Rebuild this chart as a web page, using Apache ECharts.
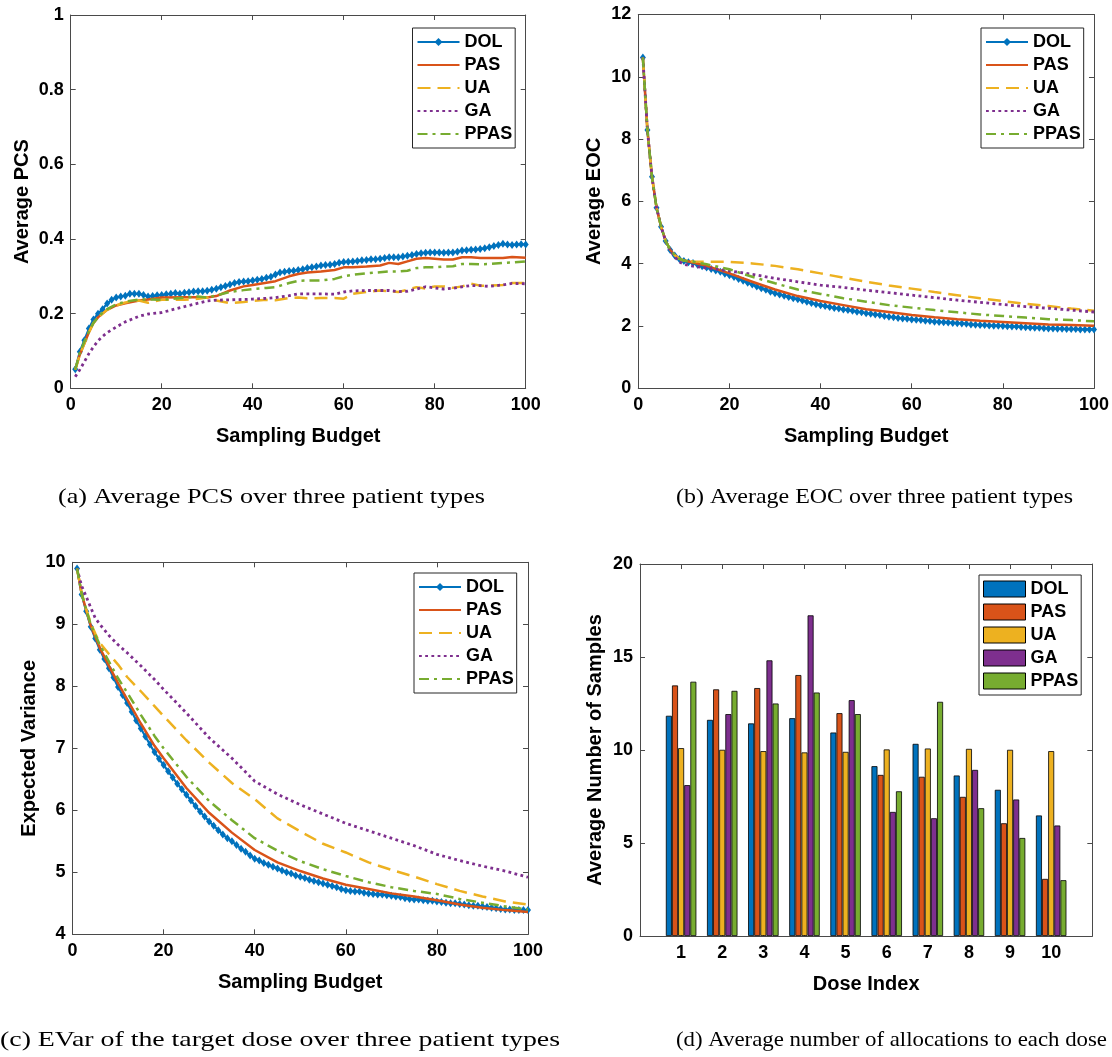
<!DOCTYPE html>
<html><head><meta charset="utf-8">
<script src="https://cdn.jsdelivr.net/npm/echarts@6/dist/echarts.min.js"></script>
<style>html,body{margin:0;padding:0;background:#fff}#c{width:1112px;height:1057px}</style>
</head><body><div id="c"></div>
<script>
const methods = ['DOL','PAS','UA','GA','PPAS'];
const colors = ['#0072BD','#D95319','#EDB120','#7E2F8E','#77AC30'];

// sampling budget positions 1..100 for the DOL curves
const budget = Array.from({length:100},(_,i)=>i+1);

// (a) Average PCS
const pcsDOL = [0.051,0.098,0.129,0.160,0.184,0.200,0.212,0.227,0.237,0.243,
0.246,0.248,0.253,0.253,0.253,0.250,0.246,0.247,0.249,0.250,
0.252,0.253,0.255,0.253,0.256,0.257,0.259,0.260,0.260,0.261,
0.264,0.267,0.271,0.274,0.278,0.282,0.285,0.286,0.287,0.289,
0.291,0.293,0.296,0.299,0.305,0.310,0.312,0.314,0.315,0.317,
0.319,0.322,0.324,0.326,0.329,0.330,0.331,0.333,0.336,0.338,
0.339,0.340,0.341,0.343,0.344,0.346,0.346,0.347,0.349,0.351,
0.351,0.351,0.353,0.355,0.357,0.360,0.362,0.363,0.364,0.364,
0.364,0.363,0.364,0.364,0.366,0.369,0.370,0.371,0.372,0.373,
0.375,0.378,0.381,0.384,0.387,0.385,0.384,0.385,0.386,0.385];
const pcsX = [1,2,3,4,5,6,7,8,10,12,15,17,20,25,28,30,32,35,38,40,43,45,48,50,52,55,58,60,62,65,68,70,72,74,76,78,80,82,84,86,88,90,92,95,97,100];
const pcsPAS = [0.050,0.090,0.120,0.150,0.175,0.190,0.200,0.210,0.222,0.228,0.235,0.238,0.243,0.244,0.244,0.243,0.247,0.262,0.273,0.277,0.283,0.287,0.300,0.306,0.310,0.313,0.317,0.324,0.324,0.326,0.329,0.336,0.333,0.340,0.347,0.349,0.347,0.345,0.345,0.351,0.351,0.349,0.349,0.349,0.352,0.350];
const pcsUA = [0.050,0.090,0.120,0.150,0.175,0.190,0.200,0.210,0.222,0.230,0.235,0.229,0.237,0.237,0.240,0.243,0.235,0.228,0.231,0.234,0.237,0.236,0.242,0.243,0.241,0.242,0.242,0.240,0.253,0.258,0.262,0.260,0.258,0.264,0.271,0.267,0.273,0.273,0.269,0.273,0.280,0.275,0.275,0.277,0.282,0.282];
const pcsGA = [0.031,0.050,0.071,0.093,0.111,0.127,0.139,0.149,0.164,0.178,0.193,0.199,0.203,0.219,0.228,0.234,0.236,0.237,0.238,0.239,0.241,0.243,0.248,0.253,0.253,0.253,0.252,0.258,0.261,0.262,0.262,0.262,0.259,0.260,0.266,0.272,0.269,0.266,0.268,0.272,0.275,0.275,0.273,0.277,0.281,0.280];
const pcsPPAS = [0.050,0.095,0.125,0.152,0.175,0.190,0.203,0.212,0.225,0.232,0.238,0.238,0.237,0.243,0.246,0.243,0.249,0.258,0.263,0.266,0.269,0.271,0.282,0.288,0.289,0.289,0.293,0.300,0.304,0.308,0.311,0.313,0.313,0.315,0.322,0.324,0.324,0.326,0.327,0.333,0.333,0.332,0.333,0.336,0.337,0.340];

// (b) Average EOC
const eocDOL = [10.62,8.29,6.79,5.80,5.19,4.73,4.44,4.26,4.15,4.09,
4.05,4.02,3.97,3.92,3.88,3.83,3.78,3.74,3.68,3.63,
3.57,3.51,3.45,3.39,3.33,3.27,3.21,3.16,3.10,3.05,
3.01,2.97,2.93,2.89,2.86,2.82,2.78,2.74,2.70,2.67,
2.64,2.61,2.58,2.56,2.53,2.51,2.49,2.46,2.44,2.41,
2.39,2.37,2.35,2.32,2.30,2.28,2.26,2.24,2.23,2.21,
2.20,2.19,2.17,2.16,2.14,2.13,2.12,2.11,2.10,2.09,
2.08,2.07,2.05,2.04,2.03,2.03,2.02,2.01,2.01,2.00,
1.99,1.98,1.98,1.97,1.96,1.95,1.94,1.94,1.93,1.92,
1.92,1.91,1.91,1.90,1.90,1.90,1.89,1.89,1.89,1.89];
const eocX = [1,2,3,4,5,6,7,8,9,10,12,15,20,25,30,35,40,45,50,55,60,65,70,75,80,85,90,95,100];
const eocPAS = [10.62,8.29,6.79,5.80,5.19,4.73,4.45,4.27,4.16,4.10,4.04,3.93,3.69,3.42,3.17,2.96,2.80,2.67,2.54,2.45,2.35,2.28,2.22,2.17,2.13,2.09,2.05,2.03,2.01];
const eocUA = [10.62,8.29,6.79,5.80,5.19,4.73,4.45,4.27,4.16,4.10,4.07,4.06,4.06,4.01,3.93,3.82,3.69,3.55,3.42,3.30,3.20,3.09,2.99,2.89,2.80,2.71,2.64,2.56,2.49];
const eocGA = [10.62,8.29,6.79,5.80,5.19,4.73,4.42,4.22,4.06,3.98,3.92,3.86,3.77,3.66,3.53,3.42,3.31,3.24,3.15,3.07,2.99,2.91,2.83,2.76,2.69,2.62,2.57,2.51,2.45];
const eocPPAS = [10.62,8.29,6.79,5.80,5.19,4.73,4.45,4.27,4.16,4.10,4.06,3.98,3.82,3.58,3.37,3.17,3.03,2.89,2.78,2.67,2.59,2.51,2.44,2.37,2.32,2.27,2.22,2.19,2.15];

// (c) Expected variance
const evarDOL = [9.90,9.48,9.21,8.96,8.77,8.59,8.44,8.29,8.14,7.99,
7.86,7.73,7.59,7.45,7.32,7.19,7.06,6.94,6.83,6.73,
6.63,6.53,6.43,6.34,6.25,6.16,6.07,5.98,5.90,5.82,
5.75,5.68,5.61,5.55,5.50,5.44,5.38,5.33,5.27,5.22,
5.19,5.15,5.12,5.09,5.06,5.03,5.00,4.98,4.95,4.93,
4.91,4.88,4.86,4.84,4.82,4.80,4.78,4.76,4.73,4.71,
4.70,4.69,4.69,4.67,4.66,4.65,4.64,4.64,4.63,4.62,
4.61,4.60,4.58,4.57,4.56,4.56,4.55,4.54,4.54,4.53,
4.52,4.51,4.50,4.50,4.49,4.48,4.47,4.46,4.46,4.45,
4.44,4.43,4.42,4.41,4.40,4.40,4.39,4.39,4.39,4.39];
const evarX = [1,2,3,4,5,6,8,10,12,15,18,20,25,30,35,40,45,50,55,60,65,70,75,80,85,90,95,100];
const evarPAS = [9.90,9.50,9.23,8.98,8.80,8.62,8.33,8.05,7.79,7.40,7.04,6.84,6.36,5.96,5.64,5.36,5.16,5.02,4.90,4.80,4.73,4.66,4.61,4.55,4.48,4.43,4.39,4.36];
const evarUA = [9.90,9.50,9.25,9.02,8.85,8.70,8.52,8.35,8.15,7.92,7.68,7.52,7.13,6.77,6.44,6.18,5.87,5.66,5.46,5.32,5.16,5.04,4.93,4.81,4.70,4.61,4.53,4.48];
const evarGA = [9.90,9.62,9.45,9.27,9.10,9.00,8.82,8.67,8.54,8.33,8.11,7.95,7.57,7.17,6.84,6.47,6.26,6.09,5.94,5.79,5.67,5.55,5.43,5.29,5.19,5.10,5.02,4.92];
const evarPPAS = [9.90,9.50,9.24,9.00,8.83,8.67,8.40,8.13,7.90,7.54,7.20,7.00,6.54,6.15,5.84,5.55,5.35,5.18,5.05,4.94,4.84,4.76,4.70,4.65,4.57,4.51,4.45,4.40];

// (d) Average number of allocations per dose
const doseIndex = [1,2,3,4,5,6,7,8,9,10];
const allocDOL = [11.84,11.62,11.43,11.71,10.94,9.13,10.33,8.63,7.86,6.48];
const allocPAS = [13.47,13.26,13.33,14.03,11.98,8.66,8.56,7.48,6.06,3.07];
const allocUA = [10.10,10.01,9.94,9.87,9.90,10.03,10.08,10.06,10.01,9.94];
const allocGA = [8.11,11.93,14.82,17.24,12.68,6.67,6.33,8.93,7.34,5.94];
const allocPPAS = [13.67,13.18,12.50,13.09,11.93,7.78,12.59,6.87,5.27,3.00];

const captions = ['(a) Average PCS over three patient types','(b) Average EOC over three patient types',
  '(c) EVar of the target dose over three patient types','(d) Average number of allocations to each dose'];

const SANS = '"Liberation Sans", Arial, sans-serif';
const AX = '#4a4a4a';
const grids = [
  {left:70.7, top:15, width:455, height:373.3},
  {left:638.3, top:14.5, width:455.7, height:373.8},
  {left:72.5, top:562.3, width:455.5, height:372},
  {left:640, top:564, width:452.3, height:372}
];
const lab = {fontFamily:SANS, fontWeight:'bold', fontSize:18, color:'#000'};
const nm = {fontFamily:SANS, fontWeight:'bold', fontSize:20, color:'#000'};

function xAxes(gi, min, max, interval, name, fmt){
  return [{type:'value', gridIndex:gi, position:'bottom', min, max, interval, name, nameLocation:'middle', nameGap:38,
    nameTextStyle:nm, axisLine:{onZero:false, lineStyle:{color:AX,width:1}},
    axisTick:{inside:true,length:5,lineStyle:{color:AX}}, axisLabel:Object.assign({margin:8, formatter:fmt}, lab),
    splitLine:{show:false}},
   {type:'value', gridIndex:gi, position:'top', min, max, interval,
    axisLine:{onZero:false, lineStyle:{color:AX,width:1}}, axisTick:{inside:true,length:5,lineStyle:{color:AX}},
    axisLabel:{show:false}, splitLine:{show:false}}];
}
function yAxes(gi, min, max, interval, name, gap){
  return [{type:'value', gridIndex:gi, position:'left', min, max, interval, name, nameLocation:'middle', nameGap:gap,
    nameTextStyle:nm, axisLine:{onZero:false, lineStyle:{color:AX,width:1}},
    axisTick:{inside:true,length:5,lineStyle:{color:AX}}, axisLabel:Object.assign({margin:7}, lab),
    splitLine:{show:false}},
   {type:'value', gridIndex:gi, position:'right', min, max, interval,
    axisLine:{onZero:false, lineStyle:{color:AX,width:1}}, axisTick:{inside:true,length:5,lineStyle:{color:AX}},
    axisLabel:{show:false}, splitLine:{show:false}}];
}
const xAxis = [].concat(
  xAxes(0,0,100,20,'Sampling Budget'),
  xAxes(1,0,100,20,'Sampling Budget'),
  xAxes(2,0,100,20,'Sampling Budget'),
  xAxes(3,0,11,1,'Dose Index', v => (v>=1 && v<=10) ? String(v) : ''));
const yAxis = [].concat(
  yAxes(0,0,1,0.2,'Average PCS',38),
  yAxes(1,0,12,2,'Average EOC',34),
  yAxes(2,4,10,1,'Expected Variance',33),
  yAxes(3,0,20,5,'Average Number of Samples',35));

const lineStyles = [
  {type:'solid', width:2.2},
  {type:'solid', width:2.5},
  {type:[13,7], width:2.5},
  {type:[2.8,3.4], width:2.8},
  {type:[10,5,3,5], width:2.5}
];
function pairs(xs, ys){ return xs.map((x,i)=>[x, ys[i]]); }
const series = [];
const panels = [
  [pairs(budget,pcsDOL), pairs(pcsX,pcsPAS), pairs(pcsX,pcsUA), pairs(pcsX,pcsGA), pairs(pcsX,pcsPPAS)],
  [pairs(budget,eocDOL), pairs(eocX,eocPAS), pairs(eocX,eocUA), pairs(eocX,eocGA), pairs(eocX,eocPPAS)],
  [pairs(budget,evarDOL), pairs(evarX,evarPAS), pairs(evarX,evarUA), pairs(evarX,evarGA), pairs(evarX,evarPPAS)]
];
panels.forEach((p, gi) => {
  p.forEach((d, k) => {
    series.push({type:'line', name:methods[k], xAxisIndex:2*gi, yAxisIndex:2*gi, data:d,
      symbol: k===0 ? 'diamond' : 'none', symbolSize:[6,8], showSymbol:k===0, showAllSymbol:true,
      itemStyle:{color:colors[k]}, lineStyle:Object.assign({color:colors[k], cap:'butt'}, lineStyles[k]),
      emphasis:{disabled:true}, z:2+k});
  });
});
[allocDOL, allocPAS, allocUA, allocGA, allocPPAS].forEach((vals, k) => {
  series.push({type:'bar', name:methods[k], xAxisIndex:6, yAxisIndex:6, data:pairs(doseIndex, vals),
    barWidth:6, barGap:'2%', itemStyle:{color:colors[k], borderColor:'#000', borderWidth:0.8},
    emphasis:{disabled:true}});
});

function legend(left, top, bar){
  return {orient:'vertical', left, top, selectedMode:false,
    data: methods.map((m,i)=> bar
      ? {name:m, icon:'rect', itemStyle:{color:colors[i], borderColor:'#000', borderWidth:1}}
      : (i===0 ? {name:m} : {name:m, itemStyle:{opacity:0}})),
    itemWidth:42, itemHeight: bar?16:10, itemGap:5, padding:[5,3,5,4],
    borderColor:'#262626', borderWidth:1, backgroundColor:'#fff',
    textStyle:{fontFamily:SANS, fontWeight:'bold', fontSize:18, color:'#000'}};
}

const CAPFONT = '21px "Liberation Serif", serif';
const capPos = [[271.5,497,427],[874.5,497,397],[280,1040,560],[891.5,1040,431]];
const mctx = document.createElement('canvas').getContext('2d');
mctx.font = CAPFONT;
const graphic = captions.map((t,i) => {
  const w = mctx.measureText(t).width;
  return {type:'text', x:capPos[i][0], y:capPos[i][1], scaleX: capPos[i][2]/w,
    style:{text:t, font:CAPFONT, fill:'#000', textAlign:'center', textVerticalAlign:'middle'}};
});

const chart = echarts.init(document.getElementById('c'), null, {renderer:'canvas', width:1112, height:1057});
chart.setOption({
  animation:false, backgroundColor:'#fff',
  grid: grids,
  xAxis, yAxis, series,
  legend:[legend(412.5,28,false), legend(981,28,false), legend(414,573,false), legend(979,575,true)],
  graphic
});
</script></body></html>
